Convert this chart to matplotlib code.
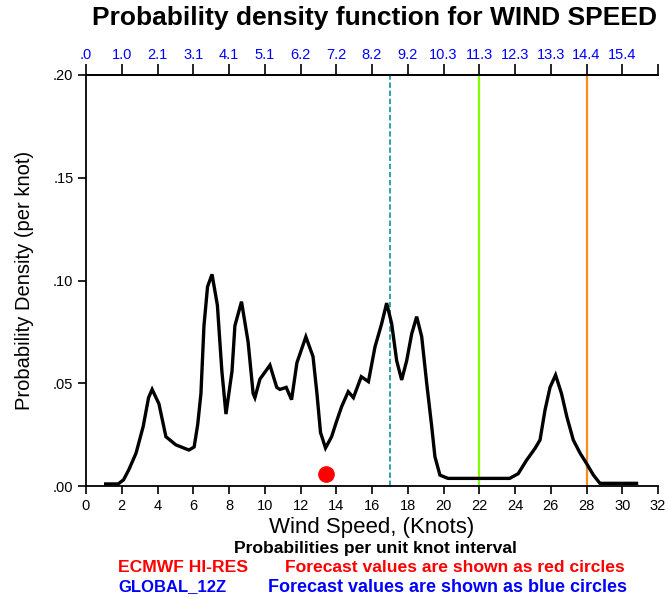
import matplotlib
matplotlib.use("Agg")
import matplotlib.pyplot as plt

# ---- data ----
speed_knots = [1.1, 1.8, 2.1, 2.4, 2.8, 3.2, 3.5, 3.7, 4.08, 4.47, 5.03, 5.76, 6.05, 6.25,
               6.43, 6.6, 6.8, 7.05, 7.35, 7.6, 7.83, 8.17, 8.33, 8.7, 9.07, 9.35, 9.45,
               9.73, 10.29, 10.67, 10.85, 11.2, 11.5, 11.8, 12.3, 12.7, 12.92, 13.12, 13.4,
               13.74, 14.0, 14.3, 14.67, 14.96, 15.4, 15.8, 16.17, 16.54, 16.82, 17.1, 17.38,
               17.66, 17.94, 18.22, 18.5, 18.78, 19.06, 19.34, 19.52, 19.8, 20.25, 23.7,
               24.18, 24.65, 25.12, 25.4, 25.68, 25.96, 26.27, 26.6, 26.9, 27.26, 27.64,
               28.0, 28.38, 28.75, 30.8]
density = [0.001, 0.001, 0.003, 0.008, 0.016, 0.029, 0.043, 0.047, 0.040, 0.024, 0.020,
           0.0175, 0.019, 0.030, 0.045, 0.078, 0.097, 0.103, 0.088, 0.056, 0.035, 0.056,
           0.078, 0.0897, 0.070, 0.045, 0.043, 0.052, 0.0588, 0.048, 0.047, 0.048, 0.042,
           0.060, 0.0726, 0.063, 0.045, 0.026, 0.0185, 0.024, 0.031, 0.0386, 0.0459, 0.043,
           0.0532, 0.0508, 0.0678, 0.079, 0.089, 0.079, 0.061, 0.0516, 0.061, 0.074, 0.0824,
           0.0727, 0.050, 0.029, 0.0143, 0.0053, 0.0037, 0.0037, 0.006, 0.0126, 0.0183,
           0.0224, 0.037, 0.048, 0.054, 0.045, 0.0337, 0.0224, 0.016, 0.011, 0.0054,
           0.0013, 0.0013]

forecast_red_x = [13.4]
forecast_red_y = [0.0058]

vline_cyan = 17
vline_green = 22
vline_orange = 28

x_ticks = list(range(0, 33, 2))
x_ticklabels = [str(v) for v in x_ticks]
y_ticks = [0.0, 0.05, 0.10, 0.15, 0.20]
y_ticklabels = [".00", ".05", ".10", ".15", ".20"]
top_ticks = list(range(0, 33, 2))
top_ticklabels = [".0", "1.0", "2.1", "3.1", "4.1", "5.1", "6.2", "7.2", "8.2", "9.2",
                  "10.3", "11.3", "12.3", "13.3", "14.4", "15.4", ""]

plain = ['Liberation Sans', 'DejaVu Sans']

fig = plt.figure(figsize=(6.69, 5.99), dpi=100)
ax = fig.add_axes([86/669, 1-486/599, (658-86)/669, (486-75)/599])

ax.plot(speed_knots, density, color='black', lw=2.4, solid_joinstyle='miter', zorder=3)
ax.plot(forecast_red_x, forecast_red_y, 'o', color='#ff0000', ms=11, zorder=4)

ax.axvline(vline_cyan, color='#1a9fa0', lw=1.3, ls=(0, (3, 1.5)), zorder=2)
ax.axvline(vline_green, color='#80ff00', lw=1.6, zorder=2)
ax.axvline(vline_orange, color='#ff8a1a', lw=1.6, zorder=2)

ax.set_xlim(0, 32)
ax.set_ylim(0, 0.20)
ax.spines['right'].set_visible(False)
for s in ['left', 'bottom', 'top']:
    ax.spines[s].set_linewidth(1.3)

ax.set_xticks(x_ticks)
ax.set_xticklabels(x_ticklabels, family=plain, fontsize=10.5)
ax.set_yticks(y_ticks)
ax.set_yticklabels(y_ticklabels, family=plain, fontsize=10.5)
ax.tick_params(axis='both', direction='out', length=6, width=1.2, pad=3)

top = ax.secondary_xaxis('top')
top.set_xticks(top_ticks)
top.set_xticklabels(top_ticklabels, family=plain, fontsize=10.5, color='#0000ff')
top.tick_params(direction='out', length=8, width=1.2, pad=1)
top.spines['top'].set_linewidth(1.3)

ax.set_ylabel("Probability Density (per knot)", family=plain, fontsize=14.5, labelpad=14)
ax.set_xlabel("Wind Speed, (Knots)", family=plain, fontsize=16, labelpad=3)

fig.text(375/669, 1-18/599, "Probability density function for WIND SPEED",
         ha='center', va='center', fontsize=19, fontweight='bold', family=plain)

fig.text(375/669, 1-548/599, "Probabilities per unit knot interval",
         ha='center', va='center', fontsize=12.6, fontweight='bold', family=plain)
fig.text(118/669, 1-567/599, "ECMWF HI-RES", ha='left', va='center', fontsize=12.6,
         fontweight='bold', color='#ff0000', family=plain)
fig.text(285/669, 1-567/599, "Forecast values are shown as red circles", ha='left',
         va='center', fontsize=12.6, fontweight='bold', color='#ff0000', family=plain)
fig.text(118/669, 1-587/599, "GLOBAL_12Z", ha='left', va='center', fontsize=12,
         fontweight='bold', color='#0000ff', family=plain)
fig.text(268/669, 1-587/599, "Forecast values are shown as blue circles", ha='left',
         va='center', fontsize=13, fontweight='bold', color='#0000ff', family=plain)

fig.savefig("out.png", dpi=100)
